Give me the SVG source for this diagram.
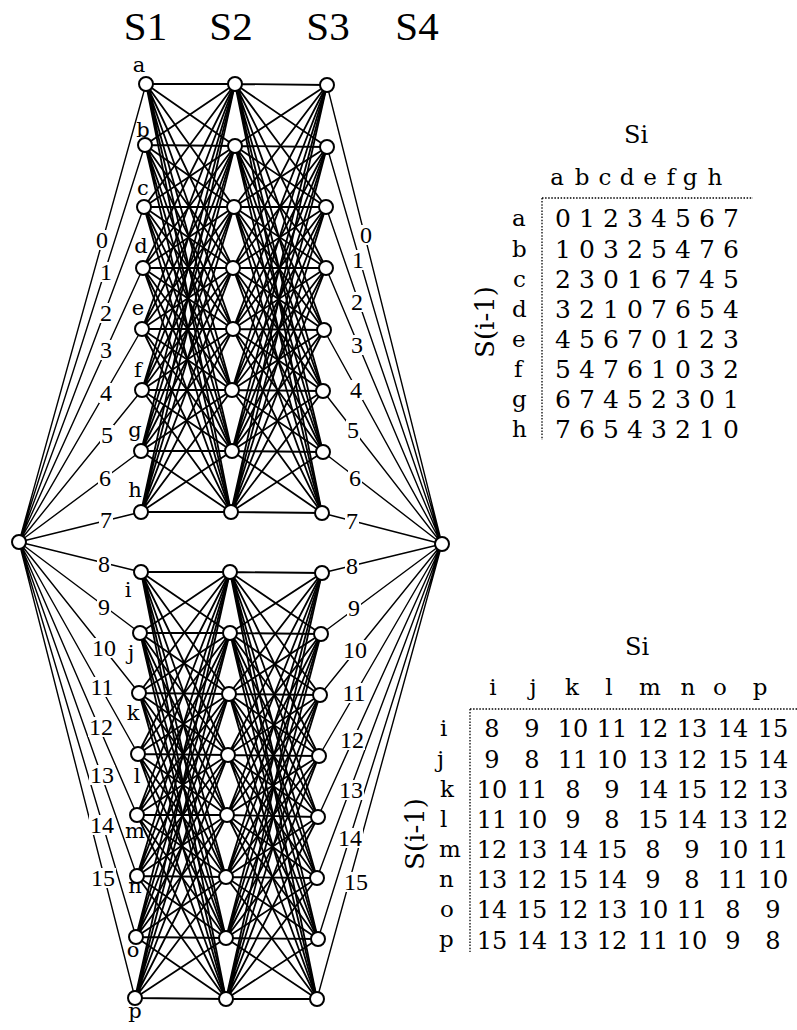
<svg xmlns="http://www.w3.org/2000/svg" width="797" height="1030" viewBox="0 0 797 1030">
<style>
.n{fill:#fff;stroke:#000;stroke-width:2}
.e{fill:none;stroke:#000;stroke-width:1.8;stroke-linecap:round}
.f{fill:none;stroke:#000;stroke-width:1.4}
.dot{fill:none;stroke:#000;stroke-width:1.3;stroke-dasharray:1.5 1.6}
.ttl{font-family:"Liberation Serif","Times New Roman",serif;font-size:41px;text-anchor:middle}
.lb{font-family:"DejaVu Serif",serif;font-size:21px;text-anchor:middle}
.el{font-family:"Liberation Serif","Times New Roman",serif;font-size:24px;text-anchor:middle}
.t1{font-family:"DejaVu Serif",serif;font-size:25px;text-anchor:middle}
.t2{font-family:"DejaVu Serif",serif;font-size:24px;text-anchor:middle}
.hd{font-family:"DejaVu Serif",serif;font-size:23px;text-anchor:middle}
.rl{font-family:"DejaVu Serif",serif;font-size:23px}
.si{font-family:"DejaVu Serif",serif;font-size:24px;text-anchor:middle}
.sv{font-family:"DejaVu Serif",serif;font-size:26px;text-anchor:middle}
</style>
<defs>
<mask id="gaps" maskUnits="userSpaceOnUse" x="0" y="0" width="797" height="1030">
<rect x="0" y="0" width="797" height="1030" fill="#fff"/>
<g fill="#000">
<rect x="95" y="230" width="14" height="20"/>
<rect x="99" y="262" width="14" height="20"/>
<rect x="99" y="303" width="14" height="20"/>
<rect x="99" y="340" width="14" height="20"/>
<rect x="99" y="383" width="14" height="20"/>
<rect x="100" y="425" width="14" height="20"/>
<rect x="98" y="468" width="14" height="20"/>
<rect x="99" y="510" width="14" height="20"/>
<rect x="97" y="554" width="14" height="20"/>
<rect x="97" y="597" width="14" height="20"/>
<rect x="91" y="638" width="26" height="20"/>
<rect x="89" y="677" width="26" height="20"/>
<rect x="88" y="717" width="26" height="20"/>
<rect x="89" y="765" width="26" height="20"/>
<rect x="89" y="815" width="26" height="20"/>
<rect x="90" y="868" width="26" height="20"/>
<rect x="359" y="225" width="14" height="20"/>
<rect x="351" y="250" width="14" height="20"/>
<rect x="350" y="292" width="14" height="20"/>
<rect x="350" y="335" width="14" height="20"/>
<rect x="349" y="380" width="14" height="20"/>
<rect x="346" y="420" width="14" height="20"/>
<rect x="348" y="468" width="14" height="20"/>
<rect x="345" y="511" width="14" height="20"/>
<rect x="345" y="556" width="14" height="20"/>
<rect x="347" y="598" width="14" height="20"/>
<rect x="342" y="640" width="26" height="20"/>
<rect x="341" y="683" width="26" height="20"/>
<rect x="339" y="730" width="26" height="20"/>
<rect x="338" y="780" width="26" height="20"/>
<rect x="337" y="828" width="26" height="20"/>
<rect x="343" y="872" width="26" height="20"/>
</g>
</mask>
</defs>
<rect x="0" y="0" width="797" height="1030" fill="#fff"/>
<g id="titles">
<text class="ttl" x="145.5" y="40">S1</text>
<text class="ttl" x="231" y="40">S2</text>
<text class="ttl" x="328" y="40">S3</text>
<text class="ttl" x="417" y="40">S4</text>
</g>
<g id="connectors">
<g id="fan-lines" class="f" mask="url(#gaps)">
<path d="M19 542L146 84M19 542L145 145M19 542L144 207M19 542L143 268M19 542L142 329M19 542L142 390M19 542L141 451M19 542L141 512M19 542L141 572M19 542L140 633M19 542L139 693M19 542L138 754M19 542L137 815M19 542L137 876M19 542L136 937M19 542L135 998"/>
<path d="M442 544L327 85M442 544L327 147M442 544L326 207M442 544L326 268M442 544L324 330M442 544L323 391M442 544L323 452M442 544L322 513M442 544L322 573M442 544L321 634M442 544L320 695M442 544L319 756M442 544L318 817M442 544L317 878M442 544L318 939M442 544L317 999"/>
</g>
<g id="edges-upper-S1-S2" class="e">
<path d="M146 84L235 84M146 84L235 146M146 84L234 207M146 84L233 268M146 84L233 329M146 84L232 390M146 84L232 451M146 84L231 512"/>
<path d="M145 145L235 84M145 145L235 146M145 145L234 207M145 145L233 268M145 145L233 329M145 145L232 390M145 145L232 451M145 145L231 512"/>
<path d="M144 207L235 84M144 207L235 146M144 207L234 207M144 207L233 268M144 207L233 329M144 207L232 390M144 207L232 451M144 207L231 512"/>
<path d="M143 268L235 84M143 268L235 146M143 268L234 207M143 268L233 268M143 268L233 329M143 268L232 390M143 268L232 451M143 268L231 512"/>
<path d="M142 329L235 84M142 329L235 146M142 329L234 207M142 329L233 268M142 329L233 329M142 329L232 390M142 329L232 451M142 329L231 512"/>
<path d="M142 390L235 84M142 390L235 146M142 390L234 207M142 390L233 268M142 390L233 329M142 390L232 390M142 390L232 451M142 390L231 512"/>
<path d="M141 451L235 84M141 451L235 146M141 451L234 207M141 451L233 268M141 451L233 329M141 451L232 390M141 451L232 451M141 451L231 512"/>
<path d="M141 512L235 84M141 512L235 146M141 512L234 207M141 512L233 268M141 512L233 329M141 512L232 390M141 512L232 451M141 512L231 512"/>
</g>
<g id="edges-upper-S2-S3" class="e">
<path d="M235 84L327 85M235 84L327 147M235 84L326 207M235 84L326 268M235 84L324 330M235 84L323 391M235 84L323 452M235 84L322 513"/>
<path d="M235 146L327 85M235 146L327 147M235 146L326 207M235 146L326 268M235 146L324 330M235 146L323 391M235 146L323 452M235 146L322 513"/>
<path d="M234 207L327 85M234 207L327 147M234 207L326 207M234 207L326 268M234 207L324 330M234 207L323 391M234 207L323 452M234 207L322 513"/>
<path d="M233 268L327 85M233 268L327 147M233 268L326 207M233 268L326 268M233 268L324 330M233 268L323 391M233 268L323 452M233 268L322 513"/>
<path d="M233 329L327 85M233 329L327 147M233 329L326 207M233 329L326 268M233 329L324 330M233 329L323 391M233 329L323 452M233 329L322 513"/>
<path d="M232 390L327 85M232 390L327 147M232 390L326 207M232 390L326 268M232 390L324 330M232 390L323 391M232 390L323 452M232 390L322 513"/>
<path d="M232 451L327 85M232 451L327 147M232 451L326 207M232 451L326 268M232 451L324 330M232 451L323 391M232 451L323 452M232 451L322 513"/>
<path d="M231 512L327 85M231 512L327 147M231 512L326 207M231 512L326 268M231 512L324 330M231 512L323 391M231 512L323 452M231 512L322 513"/>
</g>
<g id="edges-lower-S1-S2" class="e">
<path d="M141 572L230 572M141 572L230 633M141 572L229 694M141 572L228 755M141 572L227 815M141 572L226 877M141 572L226 938M141 572L226 999"/>
<path d="M140 633L230 572M140 633L230 633M140 633L229 694M140 633L228 755M140 633L227 815M140 633L226 877M140 633L226 938M140 633L226 999"/>
<path d="M139 693L230 572M139 693L230 633M139 693L229 694M139 693L228 755M139 693L227 815M139 693L226 877M139 693L226 938M139 693L226 999"/>
<path d="M138 754L230 572M138 754L230 633M138 754L229 694M138 754L228 755M138 754L227 815M138 754L226 877M138 754L226 938M138 754L226 999"/>
<path d="M137 815L230 572M137 815L230 633M137 815L229 694M137 815L228 755M137 815L227 815M137 815L226 877M137 815L226 938M137 815L226 999"/>
<path d="M137 876L230 572M137 876L230 633M137 876L229 694M137 876L228 755M137 876L227 815M137 876L226 877M137 876L226 938M137 876L226 999"/>
<path d="M136 937L230 572M136 937L230 633M136 937L229 694M136 937L228 755M136 937L227 815M136 937L226 877M136 937L226 938M136 937L226 999"/>
<path d="M135 998L230 572M135 998L230 633M135 998L229 694M135 998L228 755M135 998L227 815M135 998L226 877M135 998L226 938M135 998L226 999"/>
</g>
<g id="edges-lower-S2-S3" class="e">
<path d="M230 572L322 573M230 572L321 634M230 572L320 695M230 572L319 756M230 572L318 817M230 572L317 878M230 572L318 939M230 572L317 999"/>
<path d="M230 633L322 573M230 633L321 634M230 633L320 695M230 633L319 756M230 633L318 817M230 633L317 878M230 633L318 939M230 633L317 999"/>
<path d="M229 694L322 573M229 694L321 634M229 694L320 695M229 694L319 756M229 694L318 817M229 694L317 878M229 694L318 939M229 694L317 999"/>
<path d="M228 755L322 573M228 755L321 634M228 755L320 695M228 755L319 756M228 755L318 817M228 755L317 878M228 755L318 939M228 755L317 999"/>
<path d="M227 815L322 573M227 815L321 634M227 815L320 695M227 815L319 756M227 815L318 817M227 815L317 878M227 815L318 939M227 815L317 999"/>
<path d="M226 877L322 573M226 877L321 634M226 877L320 695M226 877L319 756M226 877L318 817M226 877L317 878M226 877L318 939M226 877L317 999"/>
<path d="M226 938L322 573M226 938L321 634M226 938L320 695M226 938L319 756M226 938L318 817M226 938L317 878M226 938L318 939M226 938L317 999"/>
<path d="M226 999L322 573M226 999L321 634M226 999L320 695M226 999L319 756M226 999L318 817M226 999L317 878M226 999L318 939M226 999L317 999"/>
</g>
<g id="edge-labels" class="el">
<text x="102" y="248">0</text>
<text x="106" y="280">1</text>
<text x="106" y="321">2</text>
<text x="106" y="358">3</text>
<text x="106" y="401">4</text>
<text x="107" y="443">5</text>
<text x="105" y="486">6</text>
<text x="106" y="528">7</text>
<text x="104" y="572">8</text>
<text x="104" y="615">9</text>
<text x="104" y="656">10</text>
<text x="102" y="695">11</text>
<text x="101" y="735">12</text>
<text x="102" y="783">13</text>
<text x="102" y="833">14</text>
<text x="103" y="886">15</text>
<text x="366" y="243">0</text>
<text x="358" y="268">1</text>
<text x="357" y="310">2</text>
<text x="357" y="353">3</text>
<text x="356" y="398">4</text>
<text x="353" y="438">5</text>
<text x="355" y="486">6</text>
<text x="352" y="529">7</text>
<text x="352" y="574">8</text>
<text x="354" y="616">9</text>
<text x="355" y="658">10</text>
<text x="354" y="701">11</text>
<text x="352" y="748">12</text>
<text x="351" y="798">13</text>
<text x="350" y="846">14</text>
<text x="356" y="890">15</text>
</g>
</g>
<g id="nodes">
<g id="n-start"><circle class="n" cx="19" cy="542" r="7"/></g>
<g id="n-end"><circle class="n" cx="442" cy="544" r="7"/></g>
<g id="n-S1-a"><circle class="n" cx="146" cy="84" r="7"/><text class="lb" x="139" y="72">a</text></g>
<g id="n-S1-b"><circle class="n" cx="145" cy="145" r="7"/><text class="lb" x="143" y="137">b</text></g>
<g id="n-S1-c"><circle class="n" cx="144" cy="207" r="7"/><text class="lb" x="143" y="195">c</text></g>
<g id="n-S1-d"><circle class="n" cx="143" cy="268" r="7"/><text class="lb" x="141" y="253">d</text></g>
<g id="n-S1-e"><circle class="n" cx="142" cy="329" r="7"/><text class="lb" x="138" y="315">e</text></g>
<g id="n-S1-f"><circle class="n" cx="142" cy="390" r="7"/><text class="lb" x="138" y="377">f</text></g>
<g id="n-S1-g"><circle class="n" cx="141" cy="451" r="7"/><text class="lb" x="135" y="437">g</text></g>
<g id="n-S1-h"><circle class="n" cx="141" cy="512" r="7"/><text class="lb" x="135" y="497">h</text></g>
<g id="n-S1-i"><circle class="n" cx="141" cy="572" r="7"/><text class="lb" x="128" y="597">i</text></g>
<g id="n-S1-j"><circle class="n" cx="140" cy="633" r="7"/><text class="lb" x="131" y="660">j</text></g>
<g id="n-S1-k"><circle class="n" cx="139" cy="693" r="7"/><text class="lb" x="133" y="720">k</text></g>
<g id="n-S1-l"><circle class="n" cx="138" cy="754" r="7"/><text class="lb" x="137" y="783">l</text></g>
<g id="n-S1-m"><circle class="n" cx="137" cy="815" r="7"/><text class="lb" x="135" y="838">m</text></g>
<g id="n-S1-n"><circle class="n" cx="137" cy="876" r="7"/><text class="lb" x="135" y="893">n</text></g>
<g id="n-S1-o"><circle class="n" cx="136" cy="937" r="7"/><text class="lb" x="133" y="957">o</text></g>
<g id="n-S1-p"><circle class="n" cx="135" cy="998" r="7"/><text class="lb" x="135" y="1018">p</text></g>
<g id="n-S2-a"><circle class="n" cx="235" cy="84" r="7"/></g>
<g id="n-S2-b"><circle class="n" cx="235" cy="146" r="7"/></g>
<g id="n-S2-c"><circle class="n" cx="234" cy="207" r="7"/></g>
<g id="n-S2-d"><circle class="n" cx="233" cy="268" r="7"/></g>
<g id="n-S2-e"><circle class="n" cx="233" cy="329" r="7"/></g>
<g id="n-S2-f"><circle class="n" cx="232" cy="390" r="7"/></g>
<g id="n-S2-g"><circle class="n" cx="232" cy="451" r="7"/></g>
<g id="n-S2-h"><circle class="n" cx="231" cy="512" r="7"/></g>
<g id="n-S2-i"><circle class="n" cx="230" cy="572" r="7"/></g>
<g id="n-S2-j"><circle class="n" cx="230" cy="633" r="7"/></g>
<g id="n-S2-k"><circle class="n" cx="229" cy="694" r="7"/></g>
<g id="n-S2-l"><circle class="n" cx="228" cy="755" r="7"/></g>
<g id="n-S2-m"><circle class="n" cx="227" cy="815" r="7"/></g>
<g id="n-S2-n"><circle class="n" cx="226" cy="877" r="7"/></g>
<g id="n-S2-o"><circle class="n" cx="226" cy="938" r="7"/></g>
<g id="n-S2-p"><circle class="n" cx="226" cy="999" r="7"/></g>
<g id="n-S3-a"><circle class="n" cx="327" cy="85" r="7"/></g>
<g id="n-S3-b"><circle class="n" cx="327" cy="147" r="7"/></g>
<g id="n-S3-c"><circle class="n" cx="326" cy="207" r="7"/></g>
<g id="n-S3-d"><circle class="n" cx="326" cy="268" r="7"/></g>
<g id="n-S3-e"><circle class="n" cx="324" cy="330" r="7"/></g>
<g id="n-S3-f"><circle class="n" cx="323" cy="391" r="7"/></g>
<g id="n-S3-g"><circle class="n" cx="323" cy="452" r="7"/></g>
<g id="n-S3-h"><circle class="n" cx="322" cy="513" r="7"/></g>
<g id="n-S3-i"><circle class="n" cx="322" cy="573" r="7"/></g>
<g id="n-S3-j"><circle class="n" cx="321" cy="634" r="7"/></g>
<g id="n-S3-k"><circle class="n" cx="320" cy="695" r="7"/></g>
<g id="n-S3-l"><circle class="n" cx="319" cy="756" r="7"/></g>
<g id="n-S3-m"><circle class="n" cx="318" cy="817" r="7"/></g>
<g id="n-S3-n"><circle class="n" cx="317" cy="878" r="7"/></g>
<g id="n-S3-o"><circle class="n" cx="318" cy="939" r="7"/></g>
<g id="n-S3-p"><circle class="n" cx="317" cy="999" r="7"/></g>
</g>
<g id="table-upper">
<text class="si" x="636" y="143">Si</text>
<text class="hd" y="185" x="557 582 605 627 650 671 690 715">abcdefgh</text>
<path class="dot" d="M542 198H753M542 198V440"/>
<text class="sv" transform="translate(494,322) rotate(-90)">S(i-1)</text>
<g class="rl">
<text x="512" y="226">a</text>
<text x="512" y="257">b</text>
<text x="513" y="287">c</text>
<text x="512" y="317">d</text>
<text x="512" y="347">e</text>
<text x="514" y="377">f</text>
<text x="512" y="407">g</text>
<text x="512" y="437">h</text>
</g>
<g class="t1">
<text y="227" x="563 587 611 635 659 683 707 731">01234567</text>
<text y="258" x="563 587 611 635 659 683 707 731">10325476</text>
<text y="288" x="563 587 611 635 659 683 707 731">23016745</text>
<text y="318" x="563 587 611 635 659 683 707 731">32107654</text>
<text y="348" x="563 587 611 635 659 683 707 731">45670123</text>
<text y="378" x="563 587 611 635 659 683 707 731">54761032</text>
<text y="408" x="563 587 611 635 659 683 707 731">67452301</text>
<text y="438" x="563 587 611 635 659 683 707 731">76543210</text>
</g>
</g>
<g id="table-lower">
<text class="si" x="637" y="655">Si</text>
<text class="hd" y="695" x="493 533 572 609 650 688 720 760">ijklmnop</text>
<path class="dot" d="M470 709H797M470 709V952"/>
<text class="sv" transform="translate(424,834) rotate(-90)">S(i-1)</text>
<g class="rl">
<text x="440" y="736">i</text>
<text x="437" y="767">j</text>
<text x="440" y="797">k</text>
<text x="440" y="827">l</text>
<text x="439" y="857">m</text>
<text x="439" y="887">n</text>
<text x="440" y="917">o</text>
<text x="439" y="947">p</text>
</g>
<g class="t2">
<text y="737"><tspan x="492">8</tspan><tspan x="532">9</tspan><tspan x="573">10</tspan><tspan x="612">11</tspan><tspan x="653">12</tspan><tspan x="692">13</tspan><tspan x="733">14</tspan><tspan x="773">15</tspan></text>
<text y="768"><tspan x="492">9</tspan><tspan x="532">8</tspan><tspan x="573">11</tspan><tspan x="612">10</tspan><tspan x="653">13</tspan><tspan x="692">12</tspan><tspan x="733">15</tspan><tspan x="773">14</tspan></text>
<text y="798"><tspan x="492">10</tspan><tspan x="532">11</tspan><tspan x="573">8</tspan><tspan x="612">9</tspan><tspan x="653">14</tspan><tspan x="692">15</tspan><tspan x="733">12</tspan><tspan x="773">13</tspan></text>
<text y="828"><tspan x="492">11</tspan><tspan x="532">10</tspan><tspan x="573">9</tspan><tspan x="612">8</tspan><tspan x="653">15</tspan><tspan x="692">14</tspan><tspan x="733">13</tspan><tspan x="773">12</tspan></text>
<text y="858"><tspan x="492">12</tspan><tspan x="532">13</tspan><tspan x="573">14</tspan><tspan x="612">15</tspan><tspan x="653">8</tspan><tspan x="692">9</tspan><tspan x="733">10</tspan><tspan x="773">11</tspan></text>
<text y="888"><tspan x="492">13</tspan><tspan x="532">12</tspan><tspan x="573">15</tspan><tspan x="612">14</tspan><tspan x="653">9</tspan><tspan x="692">8</tspan><tspan x="733">11</tspan><tspan x="773">10</tspan></text>
<text y="918"><tspan x="492">14</tspan><tspan x="532">15</tspan><tspan x="573">12</tspan><tspan x="612">13</tspan><tspan x="653">10</tspan><tspan x="692">11</tspan><tspan x="733">8</tspan><tspan x="773">9</tspan></text>
<text y="949"><tspan x="492">15</tspan><tspan x="532">14</tspan><tspan x="573">13</tspan><tspan x="612">12</tspan><tspan x="653">11</tspan><tspan x="692">10</tspan><tspan x="733">9</tspan><tspan x="773">8</tspan></text>
</g>
</g>
</svg>
